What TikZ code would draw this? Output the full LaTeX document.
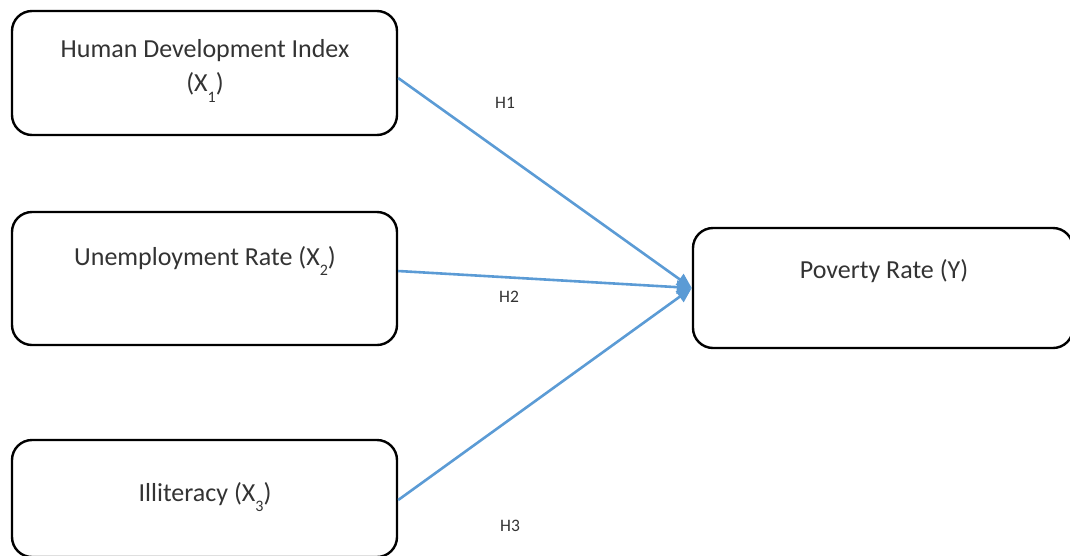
\documentclass[tikz,border=0pt]{standalone}
\usepackage{fontspec}
\setmainfont{Carlito}
\usetikzlibrary{arrows.meta,calc}
\definecolor{arrowblue}{HTML}{5B9BD5}
\newcommand\mysubx[1]{\raisebox{-0.4em}{\fontsize{16}{16}\selectfont #1}}
\begin{document}
\begin{tikzpicture}[x=1pt,y=-1pt,
  box/.style={draw=black, line width=2.4pt, rounded corners=20pt, inner sep=0pt},
  boxtext/.style={text=black!80, font=\fontsize{26}{34}\selectfont, align=center, inner sep=0pt},
  hlabel/.style={text=black!80, font=\fontsize{17.5}{20}\selectfont, inner sep=0pt},
  conn/.style={draw=arrowblue, line width=2.6pt, -{Triangle[length=15pt,width=13pt]}}
]
\useasboundingbox (0,0) rectangle (1070,555);
\node[box, minimum width=385pt, minimum height=124pt] (b1) at (204.5,73) {};
\node[box, minimum width=385pt, minimum height=133pt] (b2) at (204.5,278.5) {};
\node[box, minimum width=385pt, minimum height=117pt] (b3) at (204.5,498.5) {};
\node[box, minimum width=380pt, minimum height=120pt] (b4) at (883,288) {};
\node[boxtext] (t1) at (205,71) {Human Development Index\\(X\mysubx{1})};
\node[boxtext] (t2) at (205,261) {Unemployment Rate (X\mysubx{2})};
\node[boxtext] (t3) at (205,497) {Illiteracy (X\mysubx{3})};
\node[boxtext] (t4) at (884,271) {Poverty Rate (Y)};
\node[hlabel] (h1) at (505,103) {H1};
\node[hlabel] (h2) at (509,297) {H2};
\node[hlabel] (h3) at (510,526) {H3};
\draw[conn] ($(b1.east)+(0,5)$) -- (b4.west);
\draw[conn] ($(b2.east)+(0,-7.5)$) -- (b4.west);
\draw[conn] ($(b3.east)+(0,1.5)$) -- (b4.west);
\end{tikzpicture}
\end{document}
